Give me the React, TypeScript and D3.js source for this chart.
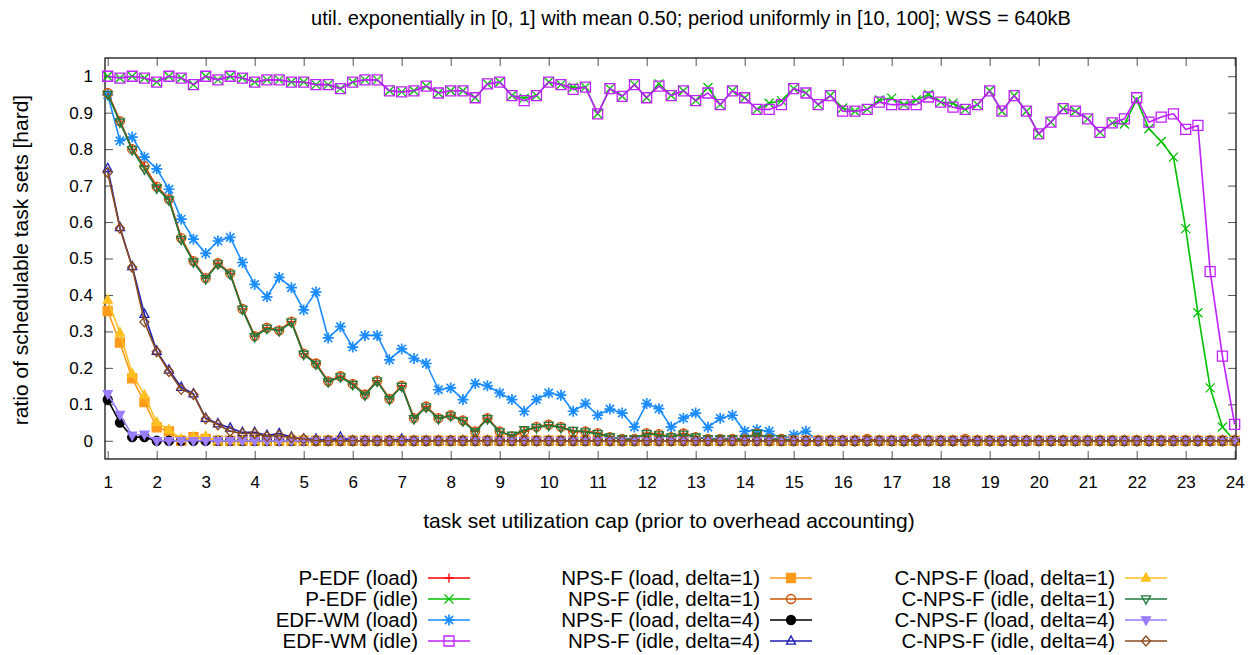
import React, { useEffect, useRef } from 'react';
import * as d3 from 'd3';

const title = 'util. exponentially in [0, 1] with mean 0.50; period uniformly in [10, 100]; WSS = 640kB';
const xLabel = 'task set utilization cap (prior to overhead accounting)';
const yLabel = 'ratio of schedulable task sets [hard]';

const utilCaps = [
  1, 1.25, 1.5, 1.75, 2, 2.25, 2.5, 2.75,
  3, 3.25, 3.5, 3.75, 4, 4.25, 4.5, 4.75,
  5, 5.25, 5.5, 5.75, 6, 6.25, 6.5, 6.75,
  7, 7.25, 7.5, 7.75, 8, 8.25, 8.5, 8.75,
  9, 9.25, 9.5, 9.75, 10, 10.25, 10.5, 10.75,
  11, 11.25, 11.5, 11.75, 12, 12.25, 12.5, 12.75,
  13, 13.25, 13.5, 13.75, 14, 14.25, 14.5, 14.75,
  15, 15.25, 15.5, 15.75, 16, 16.25, 16.5, 16.75,
  17, 17.25, 17.5, 17.75, 18, 18.25, 18.5, 18.75,
  19, 19.25, 19.5, 19.75, 20, 20.25, 20.5, 20.75,
  21, 21.25, 21.5, 21.75, 22, 22.25, 22.5, 22.75,
  23, 23.25, 23.5, 23.75, 24,
];

const xTicks = [1, 2, 3, 4, 5, 6, 7, 8, 9, 10, 11, 12, 13, 14, 15, 16, 17, 18, 19, 20, 21, 22, 23, 24];
const yTicks = [0, 0.1, 0.2, 0.3, 0.4, 0.5, 0.6, 0.7, 0.8, 0.9, 1];

// values per utilization cap, 10 per row
const pEdfLoad = [
  0.954, 0.877, 0.8, 0.753, 0.697, 0.663, 0.556, 0.493, 0.446, 0.487,
  0.459, 0.362, 0.287, 0.31, 0.303, 0.327, 0.239, 0.212, 0.163, 0.177,
  0.156, 0.127, 0.165, 0.115, 0.151, 0.062, 0.094, 0.062, 0.07, 0.056,
  0.026, 0.062, 0.026, 0.012, 0.026, 0.038, 0.044, 0.038, 0.025, 0.026,
  0.021, 0.01, 0.005, 0.005, 0.021, 0.018, 0.01, 0.02, 0.01, 0.005,
  0.005, 0.005, 0.005, 0.022, 0.005, 0.005, 0, 0, 0, 0,
  0, 0, 0.005, 0, 0, 0, 0.005, 0, 0, 0,
  0.005, 0, 0, 0, 0, 0, 0, 0, 0, 0,
  0, 0, 0, 0, 0, 0, 0, 0, 0, 0,
  0, 0, 0,
];
const pEdfIdle = [
  1.0, 0.995, 1.0, 0.995, 0.984, 1.0, 0.995, 0.977, 1.0, 0.99,
  1.0, 0.995, 0.984, 0.99, 0.99, 0.984, 0.984, 0.977, 0.977, 0.966,
  0.984, 0.99, 0.99, 0.96, 0.957, 0.96, 0.973, 0.954, 0.96, 0.96,
  0.941, 0.979, 0.984, 0.947, 0.94, 0.947, 0.984, 0.977, 0.969, 0.97,
  0.897, 0.966, 0.945, 0.977, 0.941, 0.979, 0.947, 0.96, 0.933, 0.969,
  0.922, 0.96, 0.941, 0.909, 0.926, 0.933, 0.966, 0.954, 0.922, 0.947,
  0.913, 0.904, 0.909, 0.935, 0.94, 0.922, 0.935, 0.95, 0.929, 0.926,
  0.909, 0.922, 0.96, 0.904, 0.947, 0.904, 0.842, 0.874, 0.911, 0.904,
  0.883, 0.846, 0.872, 0.869, 0.935, 0.856, 0.821, 0.778, 0.582, 0.351,
  0.145, 0.038, 0.0,
];
const edfWmLoad = [
  0.949, 0.823, 0.833, 0.778, 0.746, 0.69, 0.608, 0.553, 0.514, 0.548,
  0.558, 0.489, 0.429, 0.395, 0.448, 0.42, 0.359, 0.408, 0.282, 0.313,
  0.257, 0.289, 0.289, 0.222, 0.252, 0.226, 0.212, 0.14, 0.145, 0.113,
  0.157, 0.151, 0.131, 0.113, 0.081, 0.113, 0.131, 0.125, 0.081, 0.102,
  0.07, 0.087, 0.076, 0.038, 0.102, 0.088, 0.038, 0.062, 0.076, 0.037,
  0.062, 0.07, 0.026, 0.03, 0.026, 0.003, 0.016, 0.026, 0, 0,
  0, 0, 0, 0, 0, 0, 0, 0, 0, 0,
  0, 0, 0, 0, 0, 0, 0, 0, 0, 0,
  0, 0, 0, 0, 0, 0, 0, 0, 0, 0,
  0, 0, 0,
];
const edfWmIdle = [
  1.0, 0.995, 1.0, 0.995, 0.984, 1.0, 0.995, 0.977, 1.0, 0.99,
  1.0, 0.995, 0.984, 0.99, 0.99, 0.984, 0.984, 0.977, 0.977, 0.966,
  0.984, 0.99, 0.99, 0.96, 0.957, 0.96, 0.973, 0.954, 0.96, 0.96,
  0.941, 0.979, 0.984, 0.947, 0.933, 0.947, 0.984, 0.977, 0.964, 0.97,
  0.897, 0.966, 0.945, 0.977, 0.941, 0.973, 0.947, 0.96, 0.933, 0.954,
  0.922, 0.96, 0.941, 0.909, 0.909, 0.922, 0.966, 0.954, 0.922, 0.947,
  0.904, 0.904, 0.909, 0.929, 0.922, 0.922, 0.922, 0.943, 0.929, 0.915,
  0.909, 0.922, 0.96, 0.904, 0.947, 0.904, 0.842, 0.874, 0.911, 0.904,
  0.883, 0.846, 0.872, 0.883, 0.941, 0.874, 0.888, 0.897, 0.854, 0.865,
  0.464, 0.232, 0.045,
];
const npsfLoad1 = [
  0.356, 0.269, 0.171, 0.106, 0.037, 0.026, 0, 0.01, 0.005, 0,
  0, 0, 0, 0, 0, 0, 0, 0, 0, 0,
  0, 0, 0, 0, 0, 0, 0, 0, 0, 0,
  0, 0, 0, 0, 0, 0, 0, 0, 0, 0,
  0, 0, 0, 0, 0, 0, 0, 0, 0, 0,
  0, 0, 0, 0, 0, 0, 0, 0, 0, 0,
  0, 0, 0, 0, 0, 0, 0, 0, 0, 0,
  0, 0, 0, 0, 0, 0, 0, 0, 0, 0,
  0, 0, 0, 0, 0, 0, 0, 0, 0, 0,
  0, 0, 0,
];
const npsfIdle1 = [
  0.954, 0.877, 0.8, 0.753, 0.697, 0.663, 0.556, 0.493, 0.446, 0.487,
  0.459, 0.362, 0.287, 0.31, 0.303, 0.327, 0.239, 0.212, 0.163, 0.177,
  0.156, 0.127, 0.165, 0.115, 0.151, 0.062, 0.094, 0.062, 0.07, 0.056,
  0.026, 0.062, 0.026, 0.012, 0.026, 0.038, 0.044, 0.038, 0.025, 0.026,
  0.021, 0.01, 0.005, 0.005, 0.021, 0.018, 0.01, 0.02, 0.01, 0.005,
  0.005, 0.005, 0.005, 0.02, 0.005, 0.005, 0, 0, 0, 0,
  0, 0, 0.005, 0, 0, 0, 0.005, 0, 0, 0,
  0.005, 0, 0, 0, 0, 0, 0, 0, 0, 0,
  0, 0, 0, 0, 0, 0, 0, 0, 0, 0,
  0, 0, 0,
];
const npsfLoad4 = [
  0.113, 0.05, 0.01, 0.01, 0, 0, 0, 0, 0, 0,
  0, 0, 0, 0, 0, 0, 0, 0, 0, 0,
  0, 0, 0, 0, 0, 0, 0, 0, 0, 0,
  0, 0, 0, 0, 0, 0, 0, 0, 0, 0,
  0, 0, 0, 0, 0, 0, 0, 0, 0, 0,
  0, 0, 0, 0, 0, 0, 0, 0, 0, 0,
  0, 0, 0, 0, 0, 0, 0, 0, 0, 0,
  0, 0, 0, 0, 0, 0, 0, 0, 0, 0,
  0, 0, 0, 0, 0, 0, 0, 0, 0, 0,
  0, 0, 0,
];
const npsfIdle4 = [
  0.747, 0.585, 0.478, 0.347, 0.246, 0.194, 0.147, 0.129, 0.062, 0.047,
  0.035, 0.023, 0.023, 0.015, 0.02, 0.01, 0.005, 0.005, 0, 0.01,
  0, 0, 0, 0, 0.005, 0, 0, 0, 0, 0,
  0, 0, 0, 0, 0, 0, 0, 0, 0, 0,
  0, 0, 0, 0, 0, 0, 0, 0, 0, 0,
  0, 0, 0, 0, 0, 0, 0, 0, 0, 0,
  0, 0, 0, 0, 0, 0, 0, 0, 0, 0,
  0, 0, 0, 0, 0, 0, 0, 0, 0, 0,
  0, 0, 0, 0, 0, 0, 0, 0, 0, 0,
  0, 0, 0,
];
const cnpsfLoad1 = [
  0.386, 0.296, 0.184, 0.125, 0.05, 0.03, 0.005, 0.01, 0.012, 0,
  0, 0, 0, 0, 0, 0, 0, 0, 0, 0,
  0, 0, 0, 0, 0, 0, 0, 0, 0, 0,
  0, 0, 0, 0, 0, 0, 0, 0, 0, 0,
  0, 0, 0, 0, 0, 0, 0, 0, 0, 0,
  0, 0, 0, 0, 0, 0, 0, 0, 0, 0,
  0, 0, 0, 0, 0, 0, 0, 0, 0, 0,
  0, 0, 0, 0, 0, 0, 0, 0, 0, 0,
  0, 0, 0, 0, 0, 0, 0, 0, 0, 0,
  0, 0, 0,
];
const cnpsfIdle1 = [
  0.95, 0.874, 0.798, 0.745, 0.693, 0.66, 0.552, 0.49, 0.444, 0.485,
  0.457, 0.36, 0.285, 0.308, 0.301, 0.325, 0.237, 0.21, 0.161, 0.175,
  0.154, 0.125, 0.163, 0.113, 0.149, 0.06, 0.092, 0.06, 0.068, 0.054,
  0.024, 0.06, 0.024, 0.015, 0.03, 0.036, 0.042, 0.036, 0.028, 0.024,
  0.019, 0.01, 0.005, 0.005, 0.019, 0.016, 0.01, 0.018, 0.01, 0.005,
  0.005, 0.005, 0.005, 0.02, 0.005, 0.005, 0, 0, 0, 0,
  0, 0, 0, 0, 0, 0, 0, 0, 0, 0,
  0, 0, 0, 0, 0, 0, 0, 0, 0, 0,
  0, 0, 0, 0, 0, 0, 0, 0, 0, 0,
  0, 0, 0,
];
const cnpsfLoad4 = [
  0.129, 0.072, 0.015, 0.018, 0, 0, 0, 0, 0, 0,
  0, 0, 0, 0, 0, 0, 0, 0, 0, 0,
  0, 0, 0, 0, 0, 0, 0, 0, 0, 0,
  0, 0, 0, 0, 0, 0, 0, 0, 0, 0,
  0, 0, 0, 0, 0, 0, 0, 0, 0, 0,
  0, 0, 0, 0, 0, 0, 0, 0, 0, 0,
  0, 0, 0, 0, 0, 0, 0, 0, 0, 0,
  0, 0, 0, 0, 0, 0, 0, 0, 0, 0,
  0, 0, 0, 0, 0, 0, 0, 0, 0, 0,
  0, 0, 0,
];
const cnpsfIdle4 = [
  0.736, 0.583, 0.476, 0.326, 0.244, 0.19, 0.141, 0.127, 0.06, 0.044,
  0.026, 0.02, 0.02, 0.012, 0.015, 0.008, 0.005, 0, 0, 0,
  0, 0, 0, 0, 0, 0, 0, 0, 0, 0,
  0, 0, 0, 0, 0, 0, 0, 0, 0, 0,
  0, 0, 0, 0, 0, 0, 0, 0, 0, 0,
  0, 0, 0, 0, 0, 0, 0, 0, 0, 0,
  0, 0, 0, 0, 0, 0, 0, 0, 0, 0,
  0, 0, 0, 0, 0, 0, 0, 0, 0, 0,
  0, 0, 0, 0, 0, 0, 0, 0, 0, 0,
  0, 0, 0,
];

type Marker =
  | 'plus' | 'cross' | 'star' | 'squareOpen' | 'squareFilled' | 'circleOpen'
  | 'circleFilled' | 'triUpOpen' | 'triUpFilled' | 'triDownOpen' | 'triDownFilled' | 'diamondOpen';

interface Series { name: string; values: number[]; color: string; marker: Marker; }

const series: Series[] = [
  { name: 'P-EDF (load)', values: pEdfLoad, color: '#ff0000', marker: 'plus' },
  { name: 'P-EDF (idle)', values: pEdfIdle, color: '#00c000', marker: 'cross' },
  { name: 'EDF-WM (load)', values: edfWmLoad, color: '#1a8cff', marker: 'star' },
  { name: 'EDF-WM (idle)', values: edfWmIdle, color: '#c020ff', marker: 'squareOpen' },
  { name: 'NPS-F (load, delta=1)', values: npsfLoad1, color: '#ff9a1a', marker: 'squareFilled' },
  { name: 'NPS-F (idle, delta=1)', values: npsfIdle1, color: '#cc5200', marker: 'circleOpen' },
  { name: 'NPS-F (load, delta=4)', values: npsfLoad4, color: '#000000', marker: 'circleFilled' },
  { name: 'NPS-F (idle, delta=4)', values: npsfIdle4, color: '#1c1cb4', marker: 'triUpOpen' },
  { name: 'C-NPS-F (load, delta=1)', values: cnpsfLoad1, color: '#ffc020', marker: 'triUpFilled' },
  { name: 'C-NPS-F (idle, delta=1)', values: cnpsfIdle1, color: '#1e7a3c', marker: 'triDownOpen' },
  { name: 'C-NPS-F (load, delta=4)', values: cnpsfLoad4, color: '#9b7dff', marker: 'triDownFilled' },
  { name: 'C-NPS-F (idle, delta=4)', values: cnpsfIdle4, color: '#8b4a1a', marker: 'diamondOpen' },
];

const FONT = '"Liberation Sans", Arial, Helvetica, sans-serif';

function markerPath(m: Marker, s: number): string {
  switch (m) {
    case 'plus': return `M${-s},0H${s}M0,${-s}V${s}`;
    case 'cross': return `M${-s},${-s}L${s},${s}M${-s},${s}L${s},${-s}`;
    case 'star': return `M${-s},0H${s}M0,${-s}V${s}M${-s * 0.75},${-s * 0.75}L${s * 0.75},${s * 0.75}M${-s * 0.75},${s * 0.75}L${s * 0.75},${-s * 0.75}`;
    case 'squareOpen':
    case 'squareFilled': return `M${-s},${-s}H${s}V${s}H${-s}Z`;
    case 'triUpOpen':
    case 'triUpFilled': return `M0,${-s * 1.15}L${s},${s * 0.7}L${-s},${s * 0.7}Z`;
    case 'triDownOpen':
    case 'triDownFilled': return `M0,${s * 1.15}L${s},${-s * 0.7}L${-s},${-s * 0.7}Z`;
    case 'diamondOpen': return `M0,${-s * 1.1}L${s},0L0,${s * 1.1}L${-s},0Z`;
    default: return '';
  }
}

function drawMarker(g: d3.Selection<SVGGElement, unknown, null, undefined>, m: Marker, cx: number, cy: number, color: string) {
  const filled = m.endsWith('Filled');
  if (m === 'circleOpen' || m === 'circleFilled') {
    g.append('circle')
      .attr('cx', cx).attr('cy', cy).attr('r', 4.5)
      .attr('fill', filled ? color : 'none')
      .attr('stroke', color).attr('stroke-width', 1.3);
    return;
  }
  const size = m === 'star' ? 5.5 : m.startsWith('square') ? (filled ? 4.5 : 5) : 4.5;
  g.append('path')
    .attr('transform', `translate(${cx},${cy})`)
    .attr('d', markerPath(m, size))
    .attr('fill', filled ? color : 'none')
    .attr('stroke', color)
    .attr('stroke-width', m === 'star' ? 1.7 : 1.3);
}

const App: React.FC = () => {
  const ref = useRef<SVGSVGElement | null>(null);

  useEffect(() => {
    const svg = d3.select(ref.current);
    svg.selectAll('*').remove();

    const left = 105, right = 1236, top = 58, bottom = 459;

    const x = d3.scaleLinear().domain([0.945, 24.027]).range([left, right]);
    const y = d3.scaleLinear().domain([-0.05, 1.05]).range([bottom, top]);

    svg.append('rect').attr('width', 1258).attr('height', 655).attr('fill', '#fff');

    // axes, ticks pointing inward
    const styleAxis = (g: any) => {
      g.select('.domain').remove();
      g.selectAll('line').attr('stroke', '#555').attr('stroke-width', 1);
      g.selectAll('text').attr('font-family', FONT).attr('font-size', 17).attr('fill', '#000');
    };

    svg.append('g')
      .attr('transform', `translate(0,${bottom})`)
      .call(d3.axisBottom(x).tickValues(xTicks).tickSize(-8).tickPadding(17).tickFormat(d => String(d)))
      .call(styleAxis);
    svg.append('g')
      .attr('transform', `translate(0,${top})`)
      .call(d3.axisTop(x).tickValues(xTicks).tickSize(-8).tickFormat(() => ''))
      .call(styleAxis);
    svg.append('g')
      .attr('transform', `translate(${left},0)`)
      .call(d3.axisLeft(y).tickValues(yTicks).tickSize(-8).tickPadding(12).tickFormat(d => String(d)))
      .call(styleAxis);
    svg.append('g')
      .attr('transform', `translate(${right},0)`)
      .call(d3.axisRight(y).tickValues(yTicks).tickSize(-8).tickFormat(() => ''))
      .call(styleAxis);

    svg.append('rect')
      .attr('x', left).attr('y', top)
      .attr('width', right - left).attr('height', bottom - top)
      .attr('fill', 'none').attr('stroke', '#000').attr('stroke-width', 1.2);

    // series: line + points, drawn in order
    const line = d3.line<number>()
      .x((_, i) => x(utilCaps[i]))
      .y(d => y(d));

    series.forEach(s => {
      const g = svg.append('g');
      g.append('path')
        .datum(s.values)
        .attr('fill', 'none')
        .attr('stroke', s.color)
        .attr('stroke-width', 1.6)
        .attr('stroke-linejoin', 'round')
        .attr('d', line);
      s.values.forEach((v, i) => drawMarker(g as any, s.marker, x(utilCaps[i]), y(v), s.color));
    });

    // labels
    svg.append('text')
      .attr('x', 691).attr('y', 25)
      .attr('text-anchor', 'middle')
      .attr('font-family', FONT).attr('font-size', 20)
      .text(title);
    svg.append('text')
      .attr('x', 669).attr('y', 528)
      .attr('text-anchor', 'middle')
      .attr('font-family', FONT).attr('font-size', 21)
      .text(xLabel);
    svg.append('text')
      .attr('transform', 'translate(28,260) rotate(-90)')
      .attr('text-anchor', 'middle')
      .attr('font-family', FONT).attr('font-size', 21)
      .text(yLabel);

    // legend: 3 columns of 4
    const colAnchors = [418, 760, 1115];
    const rowYs = [578, 599, 620, 641];
    series.forEach((s, i) => {
      const ax = colAnchors[Math.floor(i / 4)];
      const ay = rowYs[i % 4];
      const g = svg.append('g');
      g.append('text')
        .attr('x', ax).attr('y', ay + 7)
        .attr('text-anchor', 'end')
        .attr('font-family', FONT).attr('font-size', 20.5)
        .text(s.name);
      g.append('line')
        .attr('x1', ax + 10).attr('x2', ax + 52)
        .attr('y1', ay).attr('y2', ay)
        .attr('stroke', s.color).attr('stroke-width', 1.6);
      drawMarker(g as any, s.marker, ax + 31, ay, s.color);
    });
  }, []);

  return (
    <svg ref={ref} width={1258} height={655}
      style={{ position: 'absolute', left: 0, top: 0, display: 'block' }} />
  );
};

export default App;
